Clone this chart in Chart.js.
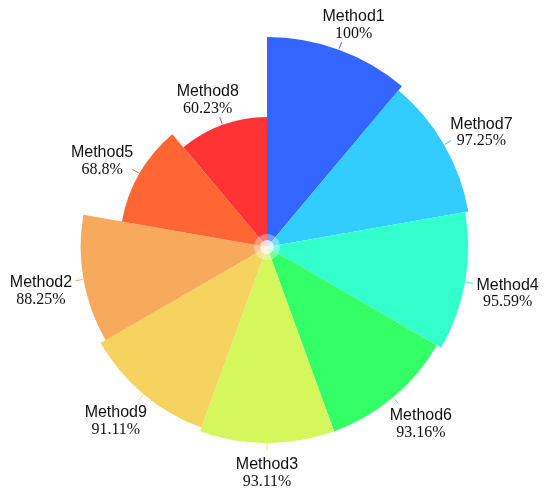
<!DOCTYPE html>
<html>
<head>
    <title>Method rose chart</title>
    <script src="https://cdn.jsdelivr.net/npm/chart.js"></script>
    <style>
        body {
            margin: 0;
            padding: 0;
            background-color: #ffffff;
        }
        .chart-container {
            width: 550px;
            height: 495px;
        }
    </style>
</head>
<body>
    <div class="chart-container">
        <canvas id="roseChart" width="550" height="495"></canvas>
    </div>

    <script>
        // data, clockwise from 12 o'clock
        const methods = ['Method1', 'Method7', 'Method4', 'Method6', 'Method3', 'Method9', 'Method2', 'Method5', 'Method8'];
        const scores = [100, 97.25, 95.59, 93.16, 93.11, 91.11, 88.25, 68.8, 60.23];
        const scoreLabels = ['100%', '97.25%', '95.59%', '93.16%', '93.11%', '91.11%', '88.25%', '68.8%', '60.23%'];
        const colors = ['#3366FF', '#33CCFF', '#33FFCC', '#33FF66', '#D4F75C', '#F6D25E', '#F8AA5C', '#FF6633', '#FF3333'];

        // labels outside each petal with a short leader line
        const petalLabels = {
            id: 'petalLabels',
            afterDatasetsDraw(chart) {
                const ctx = chart.ctx;
                const meta = chart.getDatasetMeta(0);
                ctx.save();
                meta.data.forEach((arc, i) => {
                    const p = arc.getProps(['x', 'y', 'startAngle', 'endAngle', 'outerRadius']);
                    const a = (p.startAngle + p.endAngle) / 2;
                    const s = Math.cos(a);   // sin of angle from top
                    const c = -Math.sin(a);  // cos of angle from top
                    const r = p.outerRadius;

                    // leader line
                    ctx.strokeStyle = colors[i];
                    ctx.lineWidth = 1;
                    ctx.beginPath();
                    ctx.moveTo(p.x + Math.cos(a) * (r + 1), p.y + Math.sin(a) * (r + 1));
                    ctx.lineTo(p.x + Math.cos(a) * (r + 8), p.y + Math.sin(a) * (r + 8));
                    ctx.stroke();

                    // text block
                    ctx.font = '16px "Liberation Sans", Arial, sans-serif';
                    const w1 = ctx.measureText(methods[i]).width;
                    ctx.font = '16px "Liberation Serif", "Times New Roman", serif';
                    const w2 = ctx.measureText(scoreLabels[i]).width;
                    const w = Math.max(w1, w2);
                    const ax = p.x + Math.cos(a) * (r + 10);
                    const ay = p.y + Math.sin(a) * (r + 10);
                    const cx = ax + (w / 2 + 2) * s;
                    let cy = ay - 18 * c + 2;
                    if (c < 0.3) cy += 5 * Math.abs(s);

                    ctx.fillStyle = '#111';
                    ctx.textAlign = 'center';
                    ctx.textBaseline = 'middle';
                    ctx.font = '16px "Liberation Sans", Arial, sans-serif';
                    ctx.fillText(methods[i], cx, cy - 8.5);
                    ctx.font = '16px "Liberation Serif", "Times New Roman", serif';
                    ctx.fillText(scoreLabels[i], cx, cy + 8.5);
                });

                // soft white glow in the middle
                const x0 = meta.data[0].x, y0 = meta.data[0].y;
                ctx.fillStyle = 'rgba(255,255,255,0.35)';
                ctx.beginPath();
                ctx.arc(x0, y0, 13, 0, Math.PI * 2);
                ctx.fill();
                ctx.fillStyle = 'rgba(255,255,255,0.7)';
                ctx.beginPath();
                ctx.arc(x0, y0, 7, 0, Math.PI * 2);
                ctx.fill();
                ctx.restore();
            }
        };

        const ctx = document.getElementById('roseChart').getContext('2d');
        const chart = new Chart(ctx, {
            type: 'polarArea',
            data: {
                labels: methods,
                datasets: [{
                    data: scores,
                    backgroundColor: colors,
                    borderWidth: 0
                }]
            },
            options: {
                responsive: false,
                animation: false,
                layout: {
                    padding: { left: 57, right: 73, top: 37, bottom: 38 }
                },
                scales: {
                    r: {
                        display: false,
                        min: -4.5,
                        max: 100
                    }
                },
                plugins: {
                    legend: { display: false },
                    tooltip: { enabled: false }
                }
            },
            plugins: [petalLabels]
        });
    </script>
</body>
</html>
